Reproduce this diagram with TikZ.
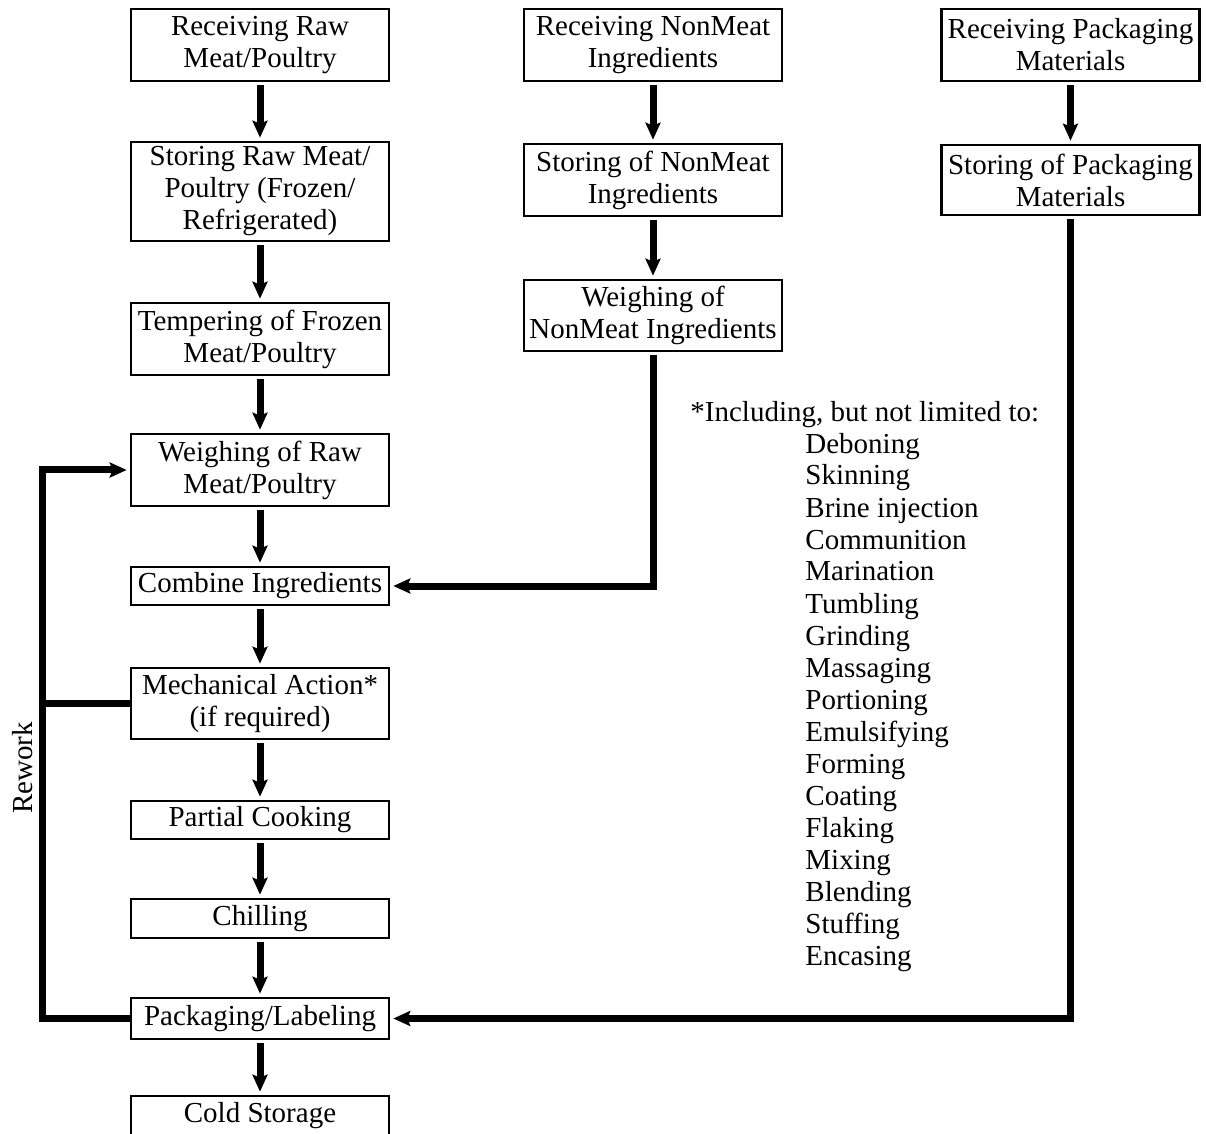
\documentclass[tikz,border=0pt]{standalone}
\usepackage{fontspec}
\setmainfont{Liberation Serif}
\usetikzlibrary{arrows.meta}
\tikzset{
  stepbox/.style={draw,line width=1.3pt,minimum width=129pt,align=center,inner sep=1pt},
  flow/.style={line width=3.5pt,-{Stealth[length=8.5pt,width=7.5pt,inset=1.5pt]},shorten <=1.5pt,shorten >=1.5pt},
  bar/.style={line width=3.5pt},
  note/.style={anchor=base west,inner sep=0pt}
}
\begin{document}
\begin{tikzpicture}[x=.5pt,y=-.5pt,font=\fontsize{14.5}{16}\selectfont]
  \clip (0,0) rectangle (1206,1134);
  % raw meat column
  \node[stepbox,minimum height=36pt] (rrm) at (260,45) {Receiving Raw\\Meat/Poultry};
  \node[stepbox,minimum height=49.5pt] (srm) at (260,191.5) {Storing Raw Meat/\\Poultry (Frozen/\\Refrigerated)};
  \node[stepbox,minimum height=36pt] (tfm) at (260,339) {Tempering of Frozen\\Meat/Poultry};
  \node[stepbox,minimum height=36pt] (wrm) at (260,470) {Weighing of Raw\\Meat/Poultry};
  \node[stepbox,minimum height=19pt] (cmb) at (260,586) {Combine Ingredients};
  \node[stepbox,minimum height=35.5pt] (mec) at (260,703.5) {Mechanical Action*\\(if required)};
  \node[stepbox,minimum height=19pt] (pco) at (260,820) {Partial Cooking};
  \node[stepbox,minimum height=19.5pt] (chl) at (260,918.5) {Chilling};
  \node[stepbox,minimum height=20.5pt] (pkl) at (260,1018.5) {Packaging/Labeling};
  \node[stepbox,minimum height=20pt] (cst) at (260,1116) {Cold Storage};
  % nonmeat column
  \node[stepbox,minimum height=36pt] (rnm) at (653,45) {Receiving NonMeat\\Ingredients};
  \node[stepbox,minimum height=36pt] (snm) at (653,180) {Storing of NonMeat\\Ingredients};
  \node[stepbox,minimum height=35.5pt] (wnm) at (653,315.5) {Weighing of\\NonMeat Ingredients};
  % packaging column
  \node[stepbox,minimum height=36pt] (rpm) at (1070.5,45) {Receiving Packaging\\Materials};
  \node[stepbox,minimum height=35pt] (spm) at (1070.5,180) {Storing of Packaging\\Materials};
  \foreach \a/\b in {rrm/srm,srm/tfm,tfm/wrm,wrm/cmb,cmb/mec,mec/pco,pco/chl,chl/pkl,pkl/cst,rnm/snm,snm/wnm,rpm/spm}
    \draw[flow] (\a.south) -- (\b.north);
  \draw[flow] (wnm.south) |- (cmb.east);
  \draw[flow] (spm.south) |- (pkl.east);
  % rework loop
  \coordinate (rwk) at (42,470);
  \draw[flow,shorten <=0pt] (pkl.west) -| (rwk) -- (wrm.west);
  \draw[bar] (mec.west) -- (mec.west -| rwk);
  \node[rotate=90] (rwl) at (23,768) {Rework};
  % footnote
  \node[note] (incl) at (690,422) {*Including, but not limited to:};
  \foreach \t [count=\i from 0] in {Deboning,Skinning,Brine injection,Communition,Marination,Tumbling,Grinding,Massaging,Portioning,Emulsifying,Forming,Coating,Flaking,Mixing,Blending,Stuffing,Encasing}
    \node[note] (act\i) at (805,453+32*\i) {\t};
\end{tikzpicture}
\end{document}
